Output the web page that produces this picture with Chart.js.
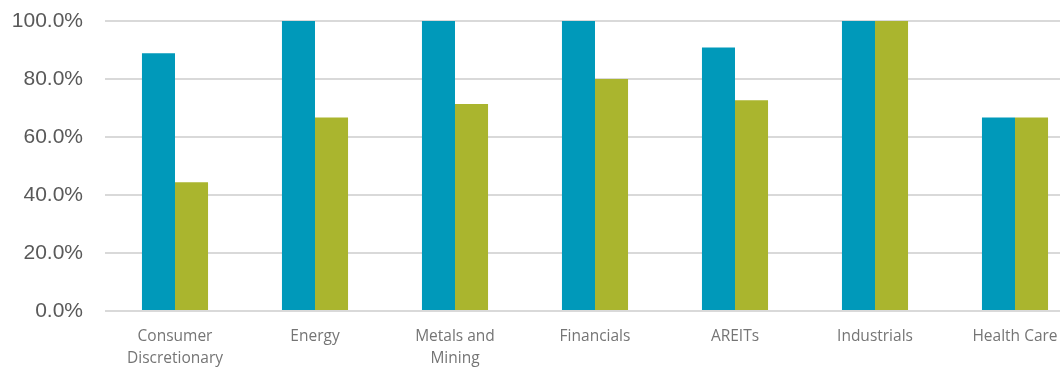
<!DOCTYPE html>
<html>
<head>
<meta charset="utf-8">
<title>Sector hit rates</title>
<script src="https://cdn.jsdelivr.net/npm/chart.js@4/dist/chart.umd.min.js"></script>
<style>
  html, body { margin: 0; padding: 0; background: #fff; overflow: hidden; }
  #wrap { width: 1090px; height: 367px; }
</style>
</head>
<body>
<div id="wrap"><canvas id="myChart" width="1090" height="367"></canvas></div>
<script>
// sectors along the x axis (multi-line labels as arrays)
var sectors = [
    ['Consumer', 'Discretionary'],
    'Energy',
    ['Metals and', 'Mining'],
    'Financials',
    'AREITs',
    'Industrials',
    'Health Care'
];

// percentages per sector
var seriesBlue  = [88.9, 100, 100, 100, 90.9, 100, 66.7];
var seriesGreen = [44.4, 66.7, 71.4, 80.0, 72.7, 100, 66.7];

var yTicks = [0, 20, 40, 60, 80, 100];

var ctx = document.getElementById('myChart');
var myBarChart = new Chart(ctx, {
    type: 'bar',
    data: {
        labels: sectors,
        datasets: [{
            data: seriesBlue,
            backgroundColor: '#0099BA',
            borderWidth: 0
        }, {
            data: seriesGreen,
            backgroundColor: '#AAB52E',
            borderWidth: 0
        }]
    },
    options: {
        responsive: false,
        animation: false,
        layout: { padding: { top: 21, right: 5, left: 0, bottom: 0 } },
        plugins: {
            legend: { display: false },
            tooltip: { enabled: false }
        },
        datasets: {
            bar: { categoryPercentage: 0.472, barPercentage: 1 }
        },
        scales: {
            x: {
                grid: { display: false, drawTicks: false },
                border: { display: false },
                ticks: {
                    padding: 14,
                    maxRotation: 0,
                    autoSkip: false,
                    color: '#757575',
                    font: { family: '"Open Sans", sans-serif', size: 15.5, lineHeight: 1.45 }
                },
                afterFit: function(scale) { scale.height = 56; }
            },
            y: {
                min: 0,
                max: 100,
                afterBuildTicks: function(scale) {
                    scale.ticks = yTicks.map(function(v) { return { value: v }; });
                },
                grid: { color: '#D9D9D9', lineWidth: 2, drawTicks: false },
                border: { display: false },
                ticks: {
                    padding: 22,
                    color: '#595959',
                    font: { family: '"Liberation Sans", Arial, sans-serif', size: 21 },
                    callback: function(v) { return v.toFixed(1) + '%'; }
                },
                // fixed axis width, and no extra room reserved above the top tick
                afterFit: function(scale) {
                    scale.width = 105;
                    scale.paddingTop = 0;
                    scale.paddingBottom = 0;
                }
            }
        }
    }
});
</script>
</body>
</html>
